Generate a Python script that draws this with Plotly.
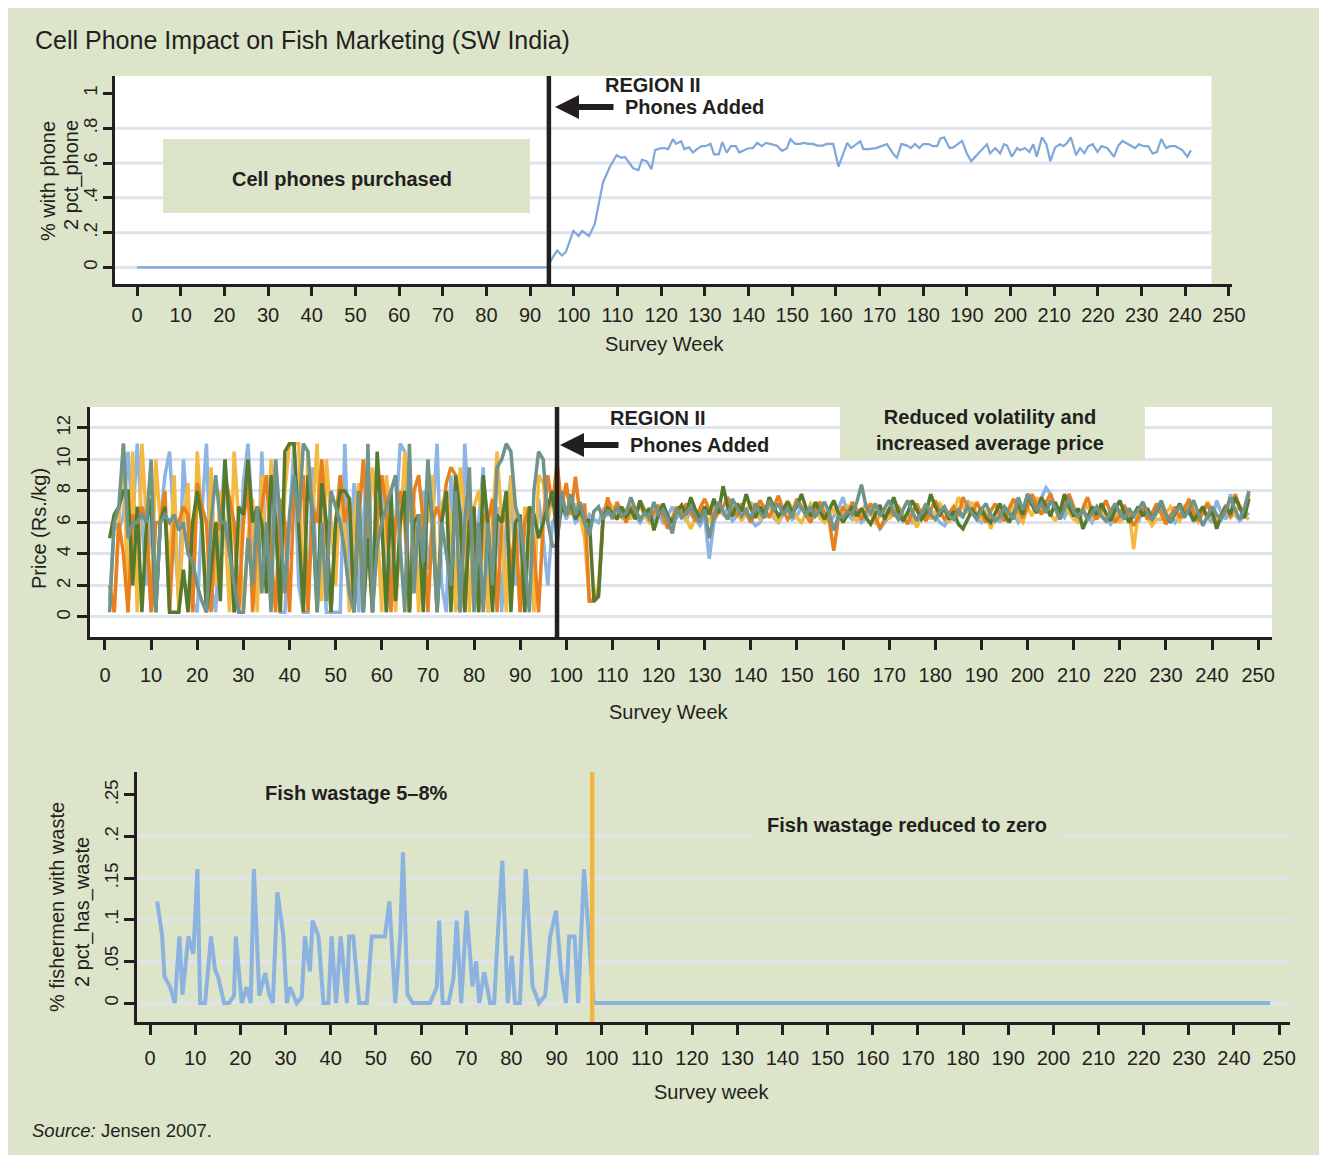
import plotly.graph_objects as go

# ---------------- DATA ----------------
# Panel 1: share of fishermen with a phone (Region II)  (week, share)
phone_pts = [(0, 0), (93.9, 0), (95.3, .063), (96.2, .097), (97.3, .069), (98.2, .09), (99.9, .21), (101.1, .18),
             (101.9, .21), (103.5, .18), (104.8, .25), (106.7, .49), (108.3, .58), (109.8, .645), (110.9, .63),
             (111.7, .635), (113.6, .57), (114.8, .56), (115.6, .62), (116.7, .61), (117.8, .565), (118.6, .674),
             (119.8, .685), (120.7, .686), (121.6, .68), (122.7, .737), (123.4, .71), (124.6, .725), (125.3, .68),
             (126.4, .69), (127.3, .66), (128.2, .68), (129.3, .697), (130.2, .697), (131.3, .71), (132.1, .65),
             (133.2, .65), (134.0, .72), (135.0, .66), (136.0, .697), (137.1, .697), (137.9, .66), (139.0, .674),
             (140.0, .685), (141.0, .686), (142.0, .716), (143.0, .697), (144.0, .716), (145.4, .707), (146.5, .70),
             (147.7, .67), (148.8, .685), (149.6, .737), (150.7, .71), (151.8, .71), (152.7, .716), (153.7, .71),
             (154.8, .71), (155.7, .70), (157.0, .70), (157.9, .71), (159.4, .71), (160.6, .58), (161.5, .645),
             (162.6, .716), (163.5, .686), (165.6, .725), (166.3, .68), (167.5, .68), (169.2, .686), (170.6, .70),
             (171.7, .709), (173.2, .65), (174.0, .63), (175.0, .71), (176.3, .70), (177.2, .686), (178.1, .709),
             (179.1, .686), (180.0, .709), (181.2, .709), (182.3, .697), (183.2, .697), (183.9, .74), (184.8, .748),
             (186.0, .686), (186.9, .69), (188.9, .727), (190.0, .655), (191.0, .61), (192.6, .655), (194.6, .708),
             (195.3, .655), (196.5, .686), (197.6, .655), (198.5, .708), (199.2, .70), (200.3, .636), (201.5, .686),
             (202.2, .674), (203.3, .686), (204.3, .663), (205.2, .708), (206.0, .636), (207.2, .748), (208.2, .709),
             (209.1, .61), (210.2, .69), (211.3, .708), (212.1, .697), (212.9, .714), (213.8, .748), (215.0, .645),
             (215.9, .686), (216.9, .657), (217.8, .697), (218.8, .708), (219.9, .663), (220.8, .697), (222.1, .686),
             (223.7, .636), (224.6, .697), (225.6, .727), (226.9, .709), (228.5, .686), (229.4, .708), (230.5, .697),
             (231.5, .697), (232.5, .655), (233.5, .663), (234.5, .738), (235.6, .686), (236.5, .697), (237.7, .697),
             (239.3, .674), (240.5, .636), (241.3, .674)]

# Panel 2: beach prices (Rs./kg); weeks 1-97 (pre) and 98-248 (post)
price_blue_pre = [1.0, 6.0, 5.5, 6.5, 10.5, 6.0, 11.0, 6.0, 2.0, 6.5,
                  0.3, 6.0, 9.0, 10.5, 5.5, 1.0, 10.0, 6.0, 1.0, 0.3,
                  6.5, 11.0, 2.0, 0.3, 6.0, 10.0, 5.0, 0.3, 1.0, 8.5,
                  11.0, 6.0, 1.0, 10.5, 3.0, 6.0, 10.0, 0.3, 0.3, 6.0,
                  11.0, 2.0, 0.3, 0.3, 9.5, 1.0, 6.0, 0.3, 0.3, 0.3,
                  0.3, 11.0, 2.0, 8.5, 0.3, 6.0, 10.0, 1.0, 6.0, 9.0,
                  0.3, 3.0, 6.0, 11.0, 10.5, 0.3, 6.0, 1.0, 8.0, 3.0,
                  6.0, 11.0, 2.0, 0.3, 9.0, 1.0, 0.3, 11.0, 6.0, 1.0,
                  6.0, 9.5, 0.3, 5.0, 7.0, 0.3, 6.0, 9.0, 2.0, 6.0,
                  0.3, 6.0, 3.0, 7.5, 5.0, 2.0, 6.0]
price_blue_post = [6.5, 7.2, 6.2, 7.0, 6.0, 6.3, 5.8, 6.5, 6.2, 6.0,
                   6.8, 6.5, 7.0, 6.3, 6.6, 6.2, 7.1, 6.4, 6.0, 6.5,
                   6.8, 6.2, 6.6, 6.0, 6.4, 7.0, 6.3, 6.6, 6.1, 6.9,
                   6.2, 5.8, 6.4, 3.7, 6.0, 6.8, 6.5, 6.9, 6.1, 6.4,
                   7.0, 6.6, 6.2, 5.8, 6.0, 6.6, 7.2, 6.3, 6.0, 6.5,
                   6.8, 6.2, 6.4, 7.0, 6.6, 6.1, 6.9, 6.3, 6.5, 6.0,
                   6.4, 6.9, 7.6, 6.5, 6.2, 6.6, 6.0, 6.3, 6.8, 6.2,
                   5.6, 6.0, 6.4, 7.3, 6.5, 6.1, 6.7, 6.0, 6.3, 6.6,
                   6.1, 6.8, 6.4, 6.0, 5.8, 6.2, 7.0, 6.6, 6.3, 7.4,
                   6.7, 6.2, 6.0, 6.6, 6.1, 6.4, 6.0, 6.8, 6.3, 6.6,
                   6.0, 6.4, 7.2, 7.5, 6.9, 7.6, 8.2, 7.8, 7.0, 6.6,
                   6.3, 7.0, 6.5, 6.2, 6.8, 6.4, 6.0, 6.6, 7.0, 6.3,
                   5.9, 6.4, 6.1, 6.7, 6.2, 6.5, 6.0, 6.8, 6.3, 6.1,
                   6.6, 6.9, 6.2, 6.5, 6.0, 6.4, 7.0, 6.6, 6.1, 6.5,
                   6.9, 6.3, 6.0, 7.4, 6.6, 6.2, 7.8, 6.5, 6.1, 6.4,
                   6.6]
price_yellow_pre = [2.0, 0.3, 6.0, 11.0, 0.3, 10.5, 0.3, 11.0, 6.0, 0.3,
                    10.0, 6.0, 6.5, 3.0, 9.0, 0.3, 6.0, 8.5, 0.3, 10.5,
                    6.0, 0.3, 9.5, 2.0, 8.0, 6.0, 0.3, 10.5, 6.0, 0.3,
                    5.0, 7.5, 0.3, 9.0, 2.0, 10.0, 6.0, 0.3, 8.0, 11.0,
                    11.0, 11.0, 0.3, 10.5, 6.5, 11.0, 1.0, 10.0, 6.0, 2.0,
                    8.5, 5.5, 0.3, 6.0, 8.5, 0.3, 5.0, 9.5, 6.0, 0.3,
                    9.0, 6.5, 0.3, 5.5, 10.5, 6.0, 7.0, 0.3, 7.0, 6.0,
                    9.0, 0.3, 7.0, 8.0, 6.0, 0.3, 9.5, 6.5, 0.3, 7.0,
                    8.0, 6.0, 0.3, 6.0, 10.5, 6.0, 0.3, 9.0, 6.0, 0.3,
                    7.0, 6.0, 0.3, 9.0, 8.5, 6.0, 8.0]
price_yellow_post = [6.0, 7.5, 8.2, 6.5, 7.2, 6.4, 5.0, 1.0, 1.2, 2.0,
                     6.5, 7.4, 7.0, 6.6, 6.3, 6.9, 6.2, 6.7, 7.1, 6.4,
                     6.0, 6.6, 7.0, 6.5, 6.1, 5.8, 6.6, 6.9, 6.2, 5.6,
                     6.3, 6.8, 6.5, 6.0, 6.9, 7.2, 6.6, 6.2, 7.0, 6.7,
                     6.1, 6.6, 7.3, 6.8, 6.2, 6.6, 7.1, 6.5, 6.0, 6.8,
                     7.4, 6.9, 6.3, 6.0, 6.6, 7.2, 6.8, 6.3, 6.0, 6.5,
                     6.9, 6.2, 6.6, 7.0, 6.4, 6.1, 6.7, 7.2, 6.5, 6.0,
                     6.4, 6.9, 6.2, 6.6, 7.0, 6.5, 6.1, 6.3, 5.7, 6.4,
                     6.9, 6.2, 6.6, 7.2, 6.8, 6.0, 6.5, 7.6, 7.0, 6.6,
                     7.3, 6.5, 6.2, 6.8, 5.6, 6.3, 6.9, 6.2, 6.6, 7.1,
                     6.3, 6.0, 7.0, 6.4, 7.6, 6.9, 7.3, 6.5, 6.1, 6.8,
                     7.4, 6.6, 6.2, 6.0, 6.7, 7.1, 6.3, 6.6, 7.0, 6.2,
                     6.5, 6.9, 6.0, 6.4, 6.8, 4.3, 6.6, 7.0, 6.3, 5.8,
                     6.2, 6.2, 6.6, 7.0, 6.5, 6.1, 6.7, 7.2, 6.4, 6.0,
                     6.6, 7.3, 6.8, 6.2, 6.5, 7.0, 6.3, 6.6, 7.1, 6.4,
                     6.2]
price_orange_pre = [2.0, 0.3, 6.0, 4.0, 0.3, 6.5, 6.0, 7.0, 6.0, 0.3,
                    6.0, 6.0, 8.0, 0.3, 6.0, 6.0, 7.0, 6.5, 0.3, 8.5,
                    7.0, 6.0, 0.3, 6.0, 5.5, 9.0, 7.5, 6.0, 0.3, 6.0,
                    8.5, 0.3, 5.5, 7.0, 9.0, 4.0, 0.3, 7.5, 6.0, 0.3,
                    8.0, 6.5, 9.0, 0.3, 7.0, 6.0, 10.0, 5.0, 0.3, 6.0,
                    9.0, 6.0, 7.5, 0.3, 6.0, 10.0, 5.5, 0.3, 6.0, 9.0,
                    7.0, 0.3, 6.0, 8.0, 6.0, 0.3, 8.0, 9.0, 6.0, 0.3,
                    6.0, 7.0, 6.0, 8.5, 9.5, 9.0, 6.0, 0.3, 7.0, 6.0,
                    0.3, 6.5, 6.0, 7.5, 0.3, 6.0, 6.5, 3.0, 6.0, 0.3,
                    6.0, 7.0, 4.5, 0.3, 6.0, 9.0, 7.0]
price_orange_post = [9.8, 7.0, 8.5, 6.5, 8.9, 6.4, 7.2, 1.0, 1.0, 1.6,
                     6.3, 7.6, 6.2, 7.3, 6.6, 6.0, 7.0, 6.5, 7.4, 6.8,
                     6.2, 6.6, 7.1, 6.4, 5.6, 6.3, 7.0, 6.5, 7.2, 6.6,
                     6.1, 6.9, 7.5, 6.8, 6.2, 6.6, 7.0, 7.6, 6.9, 6.4,
                     7.2, 6.6, 6.0, 6.7, 7.4, 6.9, 6.3, 7.0, 7.7, 6.8,
                     6.2, 6.6, 7.5, 7.0, 6.4, 6.0, 6.8, 7.3, 6.6, 6.1,
                     4.2, 6.3, 7.0, 6.5, 7.3, 6.8, 6.2, 6.7, 7.2, 6.4,
                     5.6, 6.2, 6.9, 6.4, 7.0, 6.3, 5.9, 6.6, 7.2, 6.5,
                     6.1, 6.8, 7.4, 6.7, 6.2, 6.6, 7.0, 6.4, 7.6, 7.0,
                     6.5, 7.3, 6.6, 6.0, 6.7, 7.2, 6.5, 6.1, 6.9, 7.5,
                     6.8, 6.3, 7.0, 7.8, 7.1, 6.5, 7.3, 7.8, 6.9, 6.4,
                     7.2, 7.8, 7.0, 6.3, 6.9, 7.6, 6.7, 6.2, 6.8, 7.4,
                     6.6, 6.0, 6.5, 7.1, 6.4, 5.8, 6.3, 6.9, 6.2, 6.6,
                     7.2, 6.5, 5.9, 6.4, 7.0, 6.3, 6.8, 7.5, 6.7, 6.1,
                     6.6, 7.2, 6.4, 5.8, 6.5, 7.1, 6.3, 7.8, 7.0, 6.4,
                     7.8]
price_green_pre = [5.0, 6.5, 7.0, 8.0, 8.0, 2.0, 7.0, 0.3, 6.0, 7.5,
                   0.3, 6.0, 7.0, 0.3, 0.3, 0.3, 3.0, 0.3, 6.0, 8.0,
                   6.0, 0.3, 3.0, 6.0, 1.0, 10.0, 6.0, 0.3, 7.0, 6.5,
                   10.0, 6.0, 7.0, 6.0, 1.5, 9.0, 6.0, 0.3, 10.5, 11.0,
                   11.0, 6.0, 0.3, 9.0, 6.5, 0.3, 8.5, 6.0, 0.3, 6.0,
                   8.0, 8.0, 7.5, 0.3, 8.0, 0.3, 5.0, 0.3, 10.5, 6.0,
                   0.3, 8.0, 1.0, 6.0, 8.0, 0.3, 6.0, 6.5, 0.3, 9.0,
                   6.0, 0.3, 6.0, 8.0, 0.3, 9.0, 6.5, 0.3, 6.0, 7.0,
                   0.3, 9.0, 6.0, 0.3, 6.5, 6.0, 8.0, 0.3, 6.0, 6.5,
                   0.3, 7.0, 6.5, 5.0, 6.0, 7.0, 8.0]
price_green_post = [5.0, 7.0, 6.5, 7.3, 6.2, 6.8, 6.0, 6.2, 1.0, 1.3,
                    6.4, 6.9, 6.6, 6.2, 7.0, 6.4, 6.8, 6.2, 7.4, 6.5,
                    6.9, 5.5, 6.5, 7.2, 6.4, 6.0, 6.7, 7.1, 6.5, 7.6,
                    6.8, 6.2, 7.0, 6.5, 7.5, 6.6, 8.3, 7.0, 6.4, 7.2,
                    6.7, 7.8, 6.9, 6.3, 7.0, 6.5, 7.6, 7.0, 6.4, 6.8,
                    7.3, 6.6, 7.0, 7.8, 6.9, 6.4, 7.3, 6.7, 6.2, 6.8,
                    7.4, 6.6, 6.0, 6.5, 7.0, 6.4, 6.9, 6.3, 5.9, 6.5,
                    7.1, 6.2, 6.8, 7.6, 6.7, 6.1, 6.6, 7.4, 6.8, 6.2,
                    6.6, 7.8, 7.0, 6.5, 6.9, 6.2, 6.7, 5.9, 5.6, 6.2,
                    6.8, 6.4, 6.9, 6.3, 6.0, 6.6, 7.2, 6.5, 6.0, 6.6,
                    7.2, 6.5, 7.8, 7.1, 6.6, 7.6, 7.0, 6.4, 7.3, 6.6,
                    7.8, 7.0, 6.4, 6.9, 5.6, 6.3, 7.0, 6.5, 7.2, 6.6,
                    6.1, 6.8, 7.4, 6.6, 6.0, 6.5, 7.0, 6.4, 6.9, 6.2,
                    6.7, 7.3, 6.5, 6.0, 6.6, 7.2, 6.4, 6.8, 6.1, 6.6,
                    7.0, 6.3, 6.8, 5.6, 6.4, 7.0, 6.5, 7.6, 6.9, 6.3,
                    7.5]
price_teal_pre = [0.3, 6.0, 7.0, 11.0, 5.0, 6.0, 6.0, 6.5, 6.0, 10.0,
                  0.3, 6.0, 6.5, 6.0, 6.5, 5.5, 6.0, 4.0, 3.5, 2.0,
                  1.0, 0.3, 6.0, 9.0, 6.0, 6.0, 4.0, 2.0, 0.3, 0.3,
                  5.0, 2.0, 7.0, 1.5, 6.0, 0.3, 10.0, 6.0, 1.5, 6.5,
                  9.0, 6.0, 11.0, 10.5, 6.5, 0.3, 6.0, 1.0, 8.0, 7.0,
                  6.0, 4.0, 1.5, 0.3, 8.0, 0.3, 11.0, 0.3, 4.5, 6.0,
                  7.0, 8.0, 9.0, 4.5, 0.3, 11.0, 1.5, 6.5, 3.5, 10.0,
                  6.0, 0.3, 6.0, 4.0, 2.0, 8.0, 0.3, 6.0, 9.5, 0.3,
                  6.0, 0.3, 6.0, 2.0, 9.5, 10.0, 11.0, 10.5, 7.0, 6.0,
                  3.5, 0.3, 8.0, 10.5, 10.0, 6.0, 4.5]
price_teal_post = [4.5, 8.0, 6.4, 7.8, 6.5, 7.3, 6.0, 5.2, 6.7, 7.0,
                   6.2, 6.8, 6.3, 7.0, 6.4, 6.6, 7.6, 6.8, 6.2, 6.6,
                   6.3, 7.3, 6.5, 6.8, 6.2, 5.3, 6.9, 6.3, 6.6, 7.0,
                   6.4, 6.0, 6.8, 5.0, 6.4, 7.3, 6.7, 6.2, 7.5, 7.0,
                   6.4, 6.8, 6.2, 7.2, 6.6, 6.3, 7.4, 6.8, 7.2, 6.5,
                   6.9, 6.3, 7.3, 6.9, 6.5, 7.0, 6.4, 6.8, 7.3, 6.6,
                   5.5, 6.4, 6.3, 6.7, 6.5, 7.3, 8.4, 7.0, 6.6, 7.2,
                   6.4, 6.9, 7.4, 6.6, 6.2, 6.8, 7.4, 6.7, 6.1, 6.6,
                   7.2, 6.5, 6.2, 6.7, 7.0, 6.4, 6.2, 6.8, 6.4, 7.0,
                   6.6, 6.2, 6.8, 7.2, 6.5, 6.1, 6.4, 7.0, 6.6, 6.2,
                   7.6, 6.8, 7.8, 7.3, 6.8, 7.2, 6.6, 7.4, 6.9, 6.2,
                   6.8, 7.5, 6.7, 6.4, 6.8, 6.2, 6.6, 7.0, 6.4, 6.1,
                   6.7, 7.2, 6.6, 6.2, 6.9, 6.4, 6.8, 7.3, 6.6, 6.2,
                   6.8, 7.4, 6.5, 6.1, 6.7, 7.0, 6.3, 6.9, 7.4, 6.6,
                   5.8, 6.4, 7.0, 6.5, 6.2, 6.8, 7.6, 6.8, 6.2, 6.9,
                   8.0]
price_post_start_week = 98

# Panel 3: share of fishermen with waste (week, share)
waste_pts = [(1.6, .122), (2.7, .080), (3.2, .032), (4.4, .020), (5.5, 0), (6.5, .080), (7.2, .010), (8.5, .080),
             (9.6, .059), (10.5, .161), (11.1, 0), (12.2, 0), (13.5, .080), (14.4, .040), (15.1, .031), (16.4, 0),
             (17.5, 0), (18.6, .009), (19.0, .080), (20.3, 0), (21.4, .019), (22.3, 0), (23.0, .161), (24.2, .009),
             (25.5, .036), (26.4, .010), (27.2, 0), (28.2, .133), (29.5, .082), (30.3, 0), (31.0, .019), (32.5, 0),
             (33.6, .007), (34.3, .080), (35.4, .038), (36.0, .099), (37.3, .080), (38.4, 0), (39.5, 0), (40.2, .080),
             (41.2, 0), (42.2, .080), (43.6, 0), (44.1, .080), (45.0, .080), (46.3, 0), (48.0, 0), (49.1, .080),
             (52.0, .080), (53.0, .122), (54.3, 0), (55.4, .080), (56.0, .181), (57.0, .010), (58.2, 0), (62.0, 0),
             (63.5, .019), (64.0, .099), (64.8, 0), (66.1, 0), (67.2, .030), (67.9, .099), (68.9, 0), (70.1, .111),
             (71.4, .020), (72.2, .050), (72.9, 0), (74.0, .037), (75.3, 0), (76.2, 0), (77.0, .082), (78.0, .171),
             (79.2, 0), (80.1, .057), (80.8, 0), (81.9, 0), (83.2, .161), (84.7, .020), (86.1, 0), (87.5, .009),
             (88.6, .080), (89.9, .111), (91.0, .038), (92.1, 0), (92.8, .080), (94.0, .080), (94.8, 0), (96.1, .161),
             (98.2, 0), (248.0, 0)]

# Week phones were introduced (as drawn in each panel)
phones_week_top = 94.3
phones_week_mid = 98.0
phones_week_bot = 97.9

x_ticks = list(range(0, 251, 10))
phone_ticks = [0, 0.2, 0.4, 0.6, 0.8, 1.0]
phone_ticklabels = ["0", ".2", ".4", ".6", ".8", "1"]
phone_grid = [0, 0.2, 0.4, 0.6, 0.8]
price_ticks = [0, 2, 4, 6, 8, 10, 12]
waste_ticks = [0, 0.05, 0.10, 0.15, 0.20, 0.25]
waste_ticklabels = ["0", ".05", ".1", ".15", ".2", ".25"]
waste_grid = [0, 0.05, 0.10, 0.15, 0.20]

# ---------------- STYLE / LAYOUT HELPERS ----------------
W, H, OFF = 1311, 1147, 8


def fx(px):
    return (px - OFF) / W


def fy(py):
    return 1 - (py - OFF) / H


BG = "#dce5c9"
GRID = "#dfe3ea"
INK = "#231f20"
FONT = "Liberation Sans, Arial, Helvetica, sans-serif"
FS = 20

fig = go.Figure()

# Panel 1 line
pw, pv = zip(*phone_pts)
fig.add_trace(go.Scatter(x=list(pw), y=list(pv), mode="lines",
                         line=dict(color="#7ea7da", width=2.2), xaxis="x", yaxis="y",
                         hoverinfo="skip"))

# Panel 2 lines
price_series = [
    (price_blue_pre, price_blue_post, "#8db4e2"),
    (price_yellow_pre, price_yellow_post, "#f4b940"),
    (price_orange_pre, price_orange_post, "#e8801f"),
    (price_green_pre, price_green_post, "#557a2e"),
    (price_teal_pre, price_teal_post, "#70938a"),
]
for pre, post, col in price_series:
    xs = list(range(1, 1 + len(pre))) + list(range(price_post_start_week, price_post_start_week + len(post)))
    fig.add_trace(go.Scatter(x=xs, y=pre + post, mode="lines",
                             line=dict(color=col, width=3.5), xaxis="x2", yaxis="y2",
                             hoverinfo="skip"))

# Panel 3 line
ww, wv = zip(*waste_pts)
fig.add_trace(go.Scatter(x=list(ww), y=list(wv), mode="lines",
                         line=dict(color="#8cb2e0", width=4), xaxis="x3", yaxis="y3",
                         hoverinfo="skip"))

xtickfont = dict(size=FS, family=FONT, color=INK)
ytickfont = dict(size=18.5, family=FONT, color=INK)
ax_common = dict(showline=True, linecolor=INK, linewidth=3, ticks="outside", tickcolor=INK,
                 tickwidth=2.5, zeroline=False, showgrid=False, fixedrange=True)

top_xrange = [-5.04, 250.7]
top_plot_right = 246.0

fig.update_layout(
    width=W, height=H, margin=dict(l=0, r=0, t=0, b=0),
    template="none", paper_bgcolor=BG, plot_bgcolor=BG, showlegend=False,
    font=dict(family=FONT, color=INK),
    xaxis=dict(**ax_common, tickfont=xtickfont, domain=[fx(115), fx(1232)], range=top_xrange,
               tickvals=x_ticks, ticklen=9, ticklabelstandoff=2, anchor="y"),
    yaxis=dict(**ax_common, tickfont=ytickfont, domain=[fy(284), fy(76)], range=[-0.095, 1.10],
               tickvals=phone_ticks, ticktext=phone_ticklabels, tickangle=-90, ticklen=9,
               ticklabelstandoff=-1, anchor="x"),
    xaxis2=dict(**ax_common, tickfont=xtickfont, domain=[fx(90), fx(1272)], range=[-3.25, 253.0],
                tickvals=x_ticks, ticklen=10, ticklabelstandoff=8, anchor="y2"),
    yaxis2=dict(**{**ax_common, "showgrid": True}, tickfont=ytickfont, gridcolor=GRID, gridwidth=3,
                domain=[fy(637), fy(407)], range=[-1.27, 13.33], tickvals=price_ticks,
                tickangle=-90, ticklen=10, ticklabelstandoff=0, anchor="x2"),
    xaxis3=dict(**ax_common, tickfont=xtickfont, domain=[fx(137), fx(1290)], range=[-2.88, 252.4],
                tickvals=x_ticks, ticklen=10, ticklabelstandoff=6, anchor="y3"),
    yaxis3=dict(**ax_common, tickfont=ytickfont, domain=[fy(1022), fy(772)], range=[-0.0228, 0.2776],
                tickvals=waste_ticks, ticktext=waste_ticklabels, tickangle=-90, ticklen=10,
                ticklabelstandoff=-1, anchor="x3"),
)

shapes = []
# white plotting areas
shapes.append(dict(type="rect", xref="x", yref="y domain", x0=top_xrange[0], x1=top_plot_right, y0=0, y1=1,
                   fillcolor="white", line=dict(width=0), layer="below"))
shapes.append(dict(type="rect", xref="x2 domain", yref="y2 domain", x0=0, x1=1, y0=0, y1=1,
                   fillcolor="white", line=dict(width=0), layer="below"))
# gridlines (panel 1 and 3)
for g in phone_grid:
    shapes.append(dict(type="line", xref="x", yref="y", x0=top_xrange[0], x1=top_plot_right, y0=g, y1=g,
                       line=dict(color=GRID, width=3), layer="below"))
for g in waste_grid:
    shapes.append(dict(type="line", xref="x3 domain", yref="y3", x0=0, x1=1, y0=g, y1=g,
                       line=dict(color=GRID, width=3), layer="below"))
# phone-introduction lines
shapes.append(dict(type="line", xref="x", yref="y domain", x0=phones_week_top, x1=phones_week_top, y0=0, y1=1,
                   line=dict(color=INK, width=4.5)))
shapes.append(dict(type="line", xref="x2", yref="y2 domain", x0=phones_week_mid, x1=phones_week_mid, y0=0, y1=1,
                   line=dict(color=INK, width=4.5)))
shapes.append(dict(type="line", xref="x3", yref="y3 domain", x0=phones_week_bot, x1=phones_week_bot, y0=0, y1=1,
                   line=dict(color="#f2b53e", width=4.5)))
# text boxes
for (x0, x1, y0, y1) in [(163, 530, 139, 213), (840, 1145, 405, 460), (753, 1059, 808, 848)]:
    shapes.append(dict(type="rect", xref="paper", yref="paper", x0=fx(x0), x1=fx(x1), y0=fy(y1), y1=fy(y0),
                       fillcolor=BG, line=dict(width=0), layer="above"))
fig.update_layout(shapes=shapes)

ann = []


def text(x, y, s, size=FS, anchor="center", angle=0):
    ann.append(dict(x=fx(x), y=fy(y), xref="paper", yref="paper", text=s, showarrow=False,
                    xanchor=anchor, yanchor="middle", textangle=angle,
                    font=dict(size=size, family=FONT, color=INK)))


def arrow(xh, y, length=60):
    ann.append(dict(x=fx(xh), y=fy(y), xref="paper", yref="paper", text="", showarrow=True,
                    ax=length, ay=0, arrowhead=2, arrowsize=0.8, arrowwidth=6, arrowcolor=INK,
                    standoff=0, startstandoff=0))


text(33, 40, "Cell Phone Impact on Fish Marketing (SW India)", size=25, anchor="left")
# panel 1
text(653, 85, "<b>REGION II</b>")
text(694, 107, "<b>Phones Added</b>")
arrow(555, 107)
text(342, 179, "<b>Cell phones purchased</b>")
text(48, 181, "% with phone", angle=-90)
text(71, 175, "2 pct_phone", angle=-90)
text(665, 344, "Survey Week")
# panel 2
text(658, 418, "<b>REGION II</b>")
text(699, 445, "<b>Phones Added</b>")
arrow(560, 445)
text(990, 430, "<b>Reduced volatility and<br>increased average price</b>")
text(39, 529, "Price (Rs./kg)", angle=-90)
text(669, 712, "Survey Week")
# panel 3
text(57, 907, "% fishermen with waste", angle=-90)
text(82, 912, "2 pct_has_waste", angle=-90)
text(357, 793, "<b>Fish wastage 5–8%</b>")
text(907, 825, "<b>Fish wastage reduced to zero</b>")
text(711, 1092, "Survey week")
# source
text(30, 1130, "<i>Source:</i> Jensen 2007.", size=18.5, anchor="left")

fig.update_layout(annotations=ann)

fig.write_html("out.html")
